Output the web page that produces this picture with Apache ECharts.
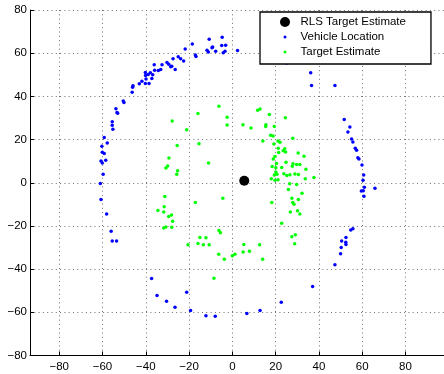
<!DOCTYPE html>
<html><head><meta charset="utf-8">
<script src="https://cdn.jsdelivr.net/npm/echarts@6/dist/echarts.min.js"></script>
<style>html,body{margin:0;padding:0;background:#fff}#c{width:444px;height:374px}</style>
</head><body><div id="c"></div>
<script>
const seriesNames = ['RLS Target Estimate', 'Vehicle Location', 'Target Estimate'];
const rlsX = [5.5];
const rlsY = [0.9];
const vehicleX = [-61.0,-60.7,-58.1,-56.0,-55.5,-53.5,-59.7,-60.7,-58.5,-60.1,-60.1,-59.2,-60.3,-57.8,-59.2,-55.2,-55.5,-55.5,-53.0,-53.3,-53.8,-50.1,-50.4,-46.3,-46.1,-45.9,-43.0,-41.8,-40.2,-38.5,-39.9,-38.9,-40.1,-40.2,-37.9,-36.8,-37.2,-35.9,-36.1,-34.2,-33.1,-32.5,-30.2,-29.4,-28.5,-28.0,-26.4,-27.4,-25.0,-23.9,-22.5,-21.8,-18.5,-17.1,-16.8,-10.7,-9.4,-9.1,-11.7,-11.1,-7.7,-4.7,-4.9,-3.1,-4.2,-3.4,2.4,25.0,36.2,36.6,47.4,51.7,54.3,53.4,55.1,55.7,56.8,57.4,58.0,58.5,59.9,60.7,60.4,61.0,65.9,59.6,60.5,60.8,55.7,54.7,52.5,50.5,52.4,52.5,50.3,50.0,47.4,37.1,-37.3,-34.8,-30.4,-26.5,-21.1,-19.3,-12.2,-7.9,6.7,12.8,22.6];
const vehicleY = [-0.4,-7.7,-14.5,-22.5,-27.0,-27.0,3.9,10.1,10.4,9.1,14.1,13.6,16.9,18.4,20.9,24.8,26.6,28.2,32.2,32.5,34.3,37.2,37.9,41.9,44.2,44.9,45.8,47.0,46.0,46.0,48.1,50.1,49.7,51.1,50.9,50.0,48.3,52.1,54.6,52.0,52.5,54.6,55.7,54.9,53.7,54.0,52.5,57.4,58.3,57.4,56.4,61.9,64.2,59.2,58.5,66.5,62.5,62.9,61.4,60.6,60.9,67.4,63.6,63.7,60.2,60.9,61.3,55.4,50.9,45.0,45.0,29.3,25.8,23.5,20.3,18.9,16.0,15.0,11.6,11.0,8.2,3.6,1.1,-2.1,-2.6,-3.8,-3.7,-6.2,-21.3,-21.9,-25.3,-27.0,-27.6,-28.6,-30.0,-32.9,-38.0,-48.1,-44.3,-52.2,-54.9,-57.7,-50.7,-59.2,-61.6,-61.8,-60.6,-59.2,-55.3];
const targetX = [-6.2,-15.9,-27.8,-2.4,-2.4,-21.1,11.7,12.8,17.1,24.5,4.9,8.6,15.5,15.4,19.4,-25.5,-15.4,-29.3,-29.9,-30.7,-11.0,-25.3,-25.7,17.7,18.8,14.1,21.1,22.0,19.2,21.2,23.5,24.2,24.6,21.4,27.9,30.4,33.1,19.7,18.9,20.4,24.8,28.0,29.7,31.2,27.7,34.0,18.4,22.8,20.1,20.1,20.6,23.8,25.2,26.6,28.9,30.5,19.4,18.0,19.7,21.1,33.7,37.7,26.5,29.7,25.9,32.2,27.5,30.5,18.2,27.9,28.5,26.8,30.1,31.2,22.8,29.1,27.5,-31.2,-17.1,-4.4,-31.5,-34.4,-31.7,-28.1,-29.4,-27.6,-31.7,-30.7,-28.0,-6.2,-5.5,-15.0,-12.2,-20.5,-15.9,-13.4,-10.7,5.3,12.6,5.0,7.9,-6.3,-3.7,0.0,1.2,14.0,-8.5,28.8];
const targetY = [35.4,32.1,28.6,30.3,26.8,24.6,33.6,34.2,31.6,30.1,26.9,25.4,26.9,26.0,26.0,17.3,18.1,11.5,7.8,6.8,9.1,5.6,3.9,22.0,21.7,19.3,19.3,18.7,18.0,16.0,14.8,15.8,14.2,14.0,20.6,13.8,12.3,12.2,11.0,8.9,9.5,8.8,8.4,8.4,7.6,6.3,7.5,7.1,6.9,5.0,3.9,4.2,3.4,3.7,4.0,3.8,3.6,1.9,1.1,1.4,1.9,2.4,-0.5,-0.8,-3.1,-4.9,-7.2,-7.8,-9.1,-9.1,-10.0,-13.5,-13.0,-14.5,-18.7,-24.1,-25.0,-6.4,-9.2,-7.2,-11.1,-12.9,-13.6,-14.9,-15.6,-17.8,-20.9,-20.5,-20.6,-22.1,-23.2,-25.3,-25.5,-28.7,-28.1,-28.7,-28.7,-28.6,-28.7,-32.1,-31.7,-33.1,-35.4,-33.8,-33.1,-35.4,-44.2,-28.3];
const xTicks = [-80, -60, -40, -20, 0, 20, 40, 60, 80];
const yTicks = [-80, -60, -40, -20, 0, 20, 40, 60, 80];

const FONT = '"Liberation Sans", Arial, Helvetica, sans-serif';
function zip(xs, ys) { return xs.map((x, i) => [x, ys[i]]); }
function fmt(ticks) {
  return function (v) {
    const r = Math.round(v);
    if (Math.abs(v - r) > 1e-6 || ticks.indexOf(r) < 0) return '';
    return r < 0 ? '\u2212' + (-r) : String(r);
  };
}
const gridLine = { show: true, showMinLine: false, lineStyle: { color: '#6e6e6e', width: 1, type: [1, 3.3] } };

const chart = echarts.init(document.getElementById('c'), null, { renderer: 'canvas' });
chart.setOption({
  animation: false,
  backgroundColor: '#ffffff',
  grid: { left: 30, top: 10, right: 0, bottom: 18.5, containLabel: false },
  xAxis: {
    type: 'value', min: -93.5, max: 97.8, minInterval: 20, maxInterval: 20, splitNumber: 10,
    axisLine: { onZero: false, lineStyle: { color: '#000', width: 1 } },
    axisTick: { inside: true, length: 4, lineStyle: { color: '#000' } },
    axisLabel: { formatter: fmt(xTicks), showMinLabel: false, showMaxLabel: false, margin: 5, color: '#000', fontSize: 11.5, fontFamily: FONT },
    splitLine: Object.assign({}, gridLine, { showMaxLine: false })
  },
  yAxis: {
    type: 'value', min: -80, max: 80, interval: 20,
    axisLine: { onZero: false, lineStyle: { color: '#000', width: 1 } },
    axisTick: { inside: true, length: 4, lineStyle: { color: '#000' } },
    axisLabel: { formatter: fmt(yTicks), margin: 3, color: '#000', fontSize: 11.5, fontFamily: FONT },
    splitLine: Object.assign({}, gridLine, { showMaxLine: true })
  },
  legend: {
    orient: 'vertical', left: 260, top: 12, padding: [4, 25, 6, 19],
    itemWidth: 21, itemHeight: 12, itemGap: 3, itemTextGap: 21.5,
    borderColor: '#000', borderWidth: 1.3, borderRadius: 0, backgroundColor: '#fff',
    selectedMode: false,
    textStyle: { fontSize: 11.5, color: '#000', fontFamily: FONT },
    data: [
      { name: seriesNames[0], icon: 'path://M0,0M12,12M1,6a5,5 0 1,0 10,0a5,5 0 1,0 -10,0z' },
      { name: seriesNames[1], icon: 'path://M0,0M12,12M4.5,6a1.5,1.5 0 1,0 3,0a1.5,1.5 0 1,0 -3,0z' },
      { name: seriesNames[2], icon: 'path://M0,0M12,12M4.5,6a1.5,1.5 0 1,0 3,0a1.5,1.5 0 1,0 -3,0z' }
    ]
  },
  series: [
    { name: seriesNames[0], type: 'scatter', symbol: 'circle', symbolSize: 10, itemStyle: { color: '#000', opacity: 1 }, data: zip(rlsX, rlsY), silent: true },
    { name: seriesNames[1], type: 'scatter', symbol: 'circle', symbolSize: 3.5, itemStyle: { color: '#0000ff', opacity: 1 }, data: zip(vehicleX, vehicleY), silent: true },
    { name: seriesNames[2], type: 'scatter', symbol: 'circle', symbolSize: 3.5, itemStyle: { color: '#00ff00', opacity: 1 }, data: zip(targetX, targetY), silent: true }
  ]
});
</script></body></html>
